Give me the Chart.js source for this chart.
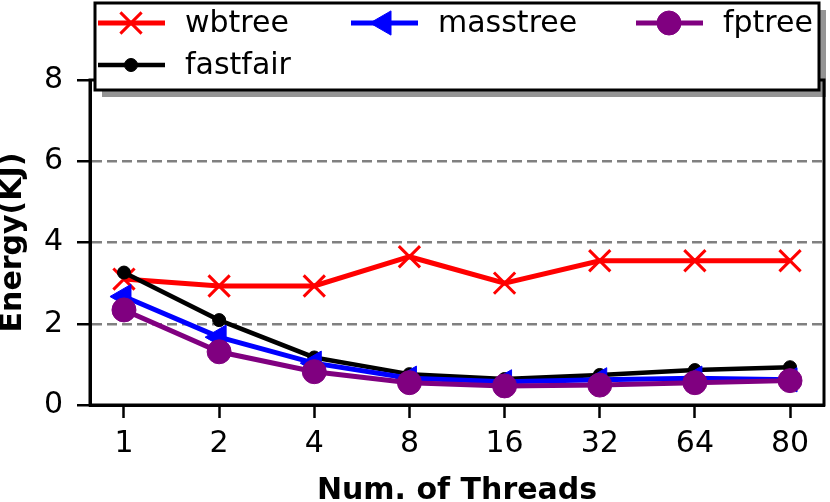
<!DOCTYPE html>
<html>
<head>
<meta charset="utf-8">
<script src="https://cdn.jsdelivr.net/npm/chart.js@4.4.0/dist/chart.umd.min.js"></script>
<style>
  html, body { margin: 0; padding: 0; background: #fff; }
  #wrap { width: 830px; height: 502px; }
</style>
</head>
<body>
<div id="wrap"><canvas id="energy" width="830" height="502"></canvas></div>
<script>
// donnees
var threads = ['1', '2', '4', '8', '16', '32', '64', '80'];
var wbtree = [3.10, 2.93, 2.93, 3.65, 3.00, 3.55, 3.55, 3.55];
var masstree = [2.67, 1.67, 1.03, 0.66, 0.57, 0.62, 0.66, 0.62];
var fptree = [2.34, 1.31, 0.82, 0.55, 0.47, 0.49, 0.55, 0.60];
var fastfair = [3.26, 2.09, 1.17, 0.76, 0.64, 0.74, 0.86, 0.93];
var yTicks = [0, 2, 4, 6, 8];

var FONT = 'DejaVu Sans';
var FSIZE = 30;

function toPoints(arr) {
    return arr.map(function (v, i) { return { x: i, y: v }; });
}

// series : style des marqueurs, repris dans la legende
var series = [
    { label: 'wbtree', data: wbtree, color: '#ff0000', width: 5, style: 'crossRot', radius: 15, pbw: 3, rot: 0, order: 4 },
    { label: 'masstree', data: masstree, color: '#0000ff', width: 5, style: 'triangle', radius: 14, pbw: 1, rot: -90, order: 2 },
    { label: 'fptree', data: fptree, color: '#800080', width: 5, style: 'circle', radius: 12, pbw: 1, rot: 0, order: 1 },
    { label: 'fastfair', data: fastfair, color: '#000000', width: 4.5, style: 'circle', radius: 6.5, pbw: 1, rot: 0, order: 3 }
];

// cadre complet (haut et droite)
var framePlugin = {
    id: 'frame',
    afterDatasetsDraw: function (chart) {
        var a = chart.chartArea, ctx = chart.ctx;
        ctx.save();
        ctx.strokeStyle = '#000';
        ctx.lineWidth = 3;
        ctx.strokeRect(a.left, a.top, a.right - a.left, a.bottom - a.top);
        ctx.restore();
    }
};

function drawMarker(ctx, s, x, y) {
    ctx.save();
    ctx.fillStyle = s.color;
    ctx.strokeStyle = s.color;
    ctx.lineWidth = s.pbw;
    Chart.helpers.drawPoint(ctx, { pointStyle: s.style, radius: s.radius, rotation: s.rot, borderWidth: s.pbw }, x, y);
    ctx.restore();
}

// legende avec ombre, comme matplotlib
var legendPlugin = {
    id: 'boxLegend',
    afterDraw: function (chart) {
        var ctx = chart.ctx;
        var box = { x: 95, y: 3, w: 724, h: 87 };
        ctx.save();
        ctx.fillStyle = 'rgba(0,0,0,0.42)';
        ctx.fillRect(box.x + 7, box.y + 7, box.w, box.h);
        ctx.fillStyle = '#fff';
        ctx.fillRect(box.x, box.y, box.w, box.h);
        ctx.strokeStyle = '#000';
        ctx.lineWidth = 3;
        ctx.strokeRect(box.x, box.y, box.w, box.h);

        var slots = [
            { x: 98, y: 23 },
            { x: 351, y: 23 },
            { x: 636, y: 23 },
            { x: 98, y: 65 }
        ];
        ctx.font = FSIZE + 'px "' + FONT + '"';
        ctx.textBaseline = 'middle';
        ctx.textAlign = 'left';
        series.forEach(function (s, i) {
            var p = slots[i];
            ctx.strokeStyle = s.color;
            ctx.lineWidth = s.width;
            ctx.beginPath();
            ctx.moveTo(p.x, p.y);
            ctx.lineTo(p.x + 67, p.y);
            ctx.stroke();
            drawMarker(ctx, s, p.x + 33, p.y);
            ctx.fillStyle = '#000';
            ctx.fillText(s.label, p.x + 87, p.y + 1);
        });
        ctx.restore();
    }
};

var datasets = series.map(function (s) {
    return {
        label: s.label,
        data: toPoints(s.data),
        borderColor: s.color,
        backgroundColor: s.color,
        borderWidth: s.width,
        pointStyle: s.style,
        pointRadius: s.radius,
        pointHoverRadius: s.radius,
        pointBorderWidth: s.pbw,
        pointRotation: s.rot,
        pointBackgroundColor: s.color,
        pointBorderColor: s.color,
        tension: 0,
        order: s.order,
        clip: false
    };
});

new Chart(document.getElementById('energy'), {
    type: 'line',
    data: { datasets: datasets },
    plugins: [framePlugin, legendPlugin],
    options: {
        responsive: false,
        animation: false,
        devicePixelRatio: 1,
        layout: { autoPadding: false, padding: { left: 0, right: 6, top: 80, bottom: 0 } },
        plugins: { legend: { display: false }, tooltip: { enabled: false } },
        scales: {
            x: {
                type: 'linear',
                min: -0.357,
                max: 7.357,
                afterBuildTicks: function (scale) {
                    scale.ticks = threads.map(function (_, i) { return { value: i }; });
                },
                afterFit: function (scale) {
                    scale.height = 97;
                    scale.paddingLeft = 0;
                    scale.paddingRight = 0;
                },
                ticks: {
                    color: '#000',
                    font: { family: FONT, size: FSIZE },
                    padding: 8,
                    maxRotation: 0,
                    autoSkip: false,
                    callback: function (v) { return threads[v]; }
                },
                grid: {
                    drawOnChartArea: false,
                    color: '#000',
                    tickColor: '#000',
                    tickLength: 13,
                    tickWidth: 2.5
                },
                border: { color: '#000', width: 3 },
                title: {
                    display: true,
                    text: 'Num. of Threads',
                    color: '#000',
                    font: { family: FONT, size: FSIZE, weight: 'bold', lineHeight: 1 },
                    padding: { top: 0, bottom: -4 }
                }
            },
            y: {
                min: 0,
                max: 8,
                afterBuildTicks: function (scale) {
                    scale.ticks = yTicks.map(function (v) { return { value: v }; });
                },
                afterFit: function (scale) {
                    scale.width = 90;
                    scale.paddingTop = 0;
                    scale.paddingBottom = 0;
                },
                ticks: {
                    color: '#000',
                    font: { family: FONT, size: FSIZE },
                    padding: 14
                },
                grid: {
                    color: function (c) {
                        return (c.tick && (c.tick.value === 0 || c.tick.value === 8)) ? 'rgba(0,0,0,0)' : '#808080';
                    },
                    lineWidth: 2.5,
                    tickColor: '#000',
                    tickLength: 13,
                    tickWidth: 2.5,
                    tickBorderDash: []
                },
                border: { color: '#000', width: 3, dash: [10, 5] },
                title: {
                    display: true,
                    text: 'Energy(KJ)',
                    color: '#000',
                    font: { family: FONT, size: FSIZE, weight: 'bold', lineHeight: 1 },
                    padding: { top: -2, bottom: 0 }
                }
            }
        }
    }
});
</script>
</body>
</html>
